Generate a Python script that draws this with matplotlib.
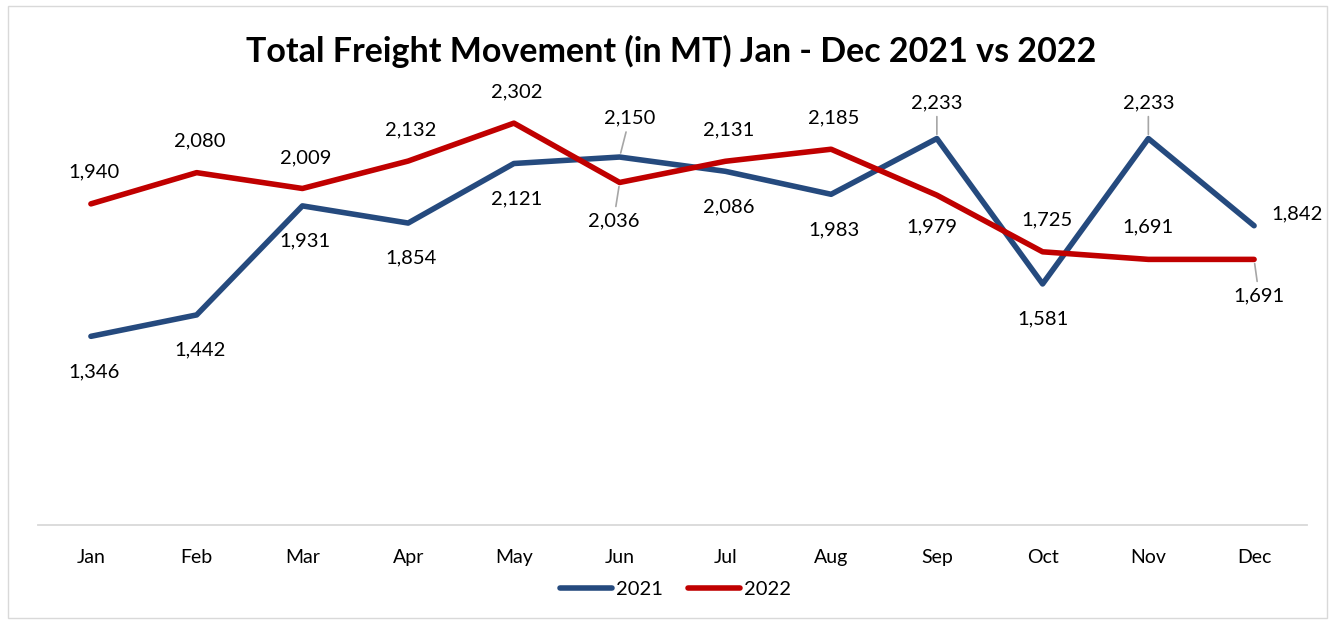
import numpy as np
import matplotlib.pyplot as plt
from matplotlib.patches import Rectangle

plt.rcParams['font.family'] = ['Lato', 'DejaVu Sans']

months = ['Jan', 'Feb', 'Mar', 'Apr', 'May', 'Jun', 'Jul', 'Aug', 'Sep', 'Oct', 'Nov', 'Dec']
vals_2021 = [1346, 1442, 1931, 1854, 2121, 2150, 2086, 1983, 2233, 1581, 2233, 1842]
vals_2022 = [1940, 2080, 2009, 2132, 2302, 2036, 2131, 2185, 1979, 1725, 1691, 1691]

c21 = '#254A7E'
c22 = '#C00000'

# label offsets in pixels (dx, dy), and whether a leader line is drawn
off_2021 = [(3, -36), (3, -35), (3, -35), (3, -35), (3, -35), (10, 39),
            (3, -36), (3, -36), (0, 36), (0, -35), (0, 36), (43, 12)]
lead_2021 = [False] * 5 + [True] + [False] * 2 + [True, False, True, False]
off_2022 = [(3, 32), (3, 32), (3, 31), (3, 31), (3, 31), (-6, -38),
            (3, 31), (3, 31), (-5, -32), (4, 32), (0, 33), (5, -36)]
lead_2022 = [False] * 5 + [True] + [False] * 5 + [True]

fig = plt.figure(figsize=(13.35, 6.22), dpi=100)
ax = fig.add_axes([0.0285, 0.156, 0.9505, 0.717])

x = np.arange(len(months))
ax.plot(x, vals_2021, color=c21, lw=4, solid_capstyle='round', solid_joinstyle='round', label='2021')
ax.plot(x, vals_2022, color=c22, lw=4, solid_capstyle='round', solid_joinstyle='round', label='2022')

def put_labels(vals, offs, leads):
    for i, v in enumerate(vals):
        dx, dy = offs[i]
        kw = {}
        if leads[i]:
            kw['arrowprops'] = dict(arrowstyle='-', color='#A6A6A6', lw=1.2, shrinkA=2, shrinkB=3)
        ax.annotate(f'{v:,}', (i, v), xytext=(dx, dy), textcoords='offset pixels',
                    ha='center', va='center', fontsize=14.5, color='#000000', **kw)

put_labels(vals_2021, off_2021, lead_2021)
put_labels(vals_2022, off_2022, lead_2022)

ax.set_xlim(-0.5, 11.5)
ax.set_ylim(500, 2500)
ax.set_xticks(x)
ax.set_xticklabels(months, fontsize=14)
ax.tick_params(axis='x', length=0, pad=17)
ax.set_yticks([])
for s in ['top', 'left', 'right']:
    ax.spines[s].set_visible(False)
ax.spines['bottom'].set_color('#D9D9D9')
ax.spines['bottom'].set_linewidth(1.3)

fig.text(0.503, 0.918, 'Total Freight Movement (in MT) Jan - Dec 2021 vs 2022',
         ha='center', va='center', fontsize=24.5, fontweight='bold')

leg = fig.legend(loc='center', bbox_to_anchor=(0.506, 0.053), ncol=2, frameon=False,
                 fontsize=14.5, handlelength=2.6, handletextpad=0.2, columnspacing=1.2)

fig.patches.append(Rectangle((0.006, 0.006), 0.988, 0.985, transform=fig.transFigure,
                             fill=False, edgecolor='#D9D9D9', lw=1.0))

plt.savefig('out.png', dpi=100)
